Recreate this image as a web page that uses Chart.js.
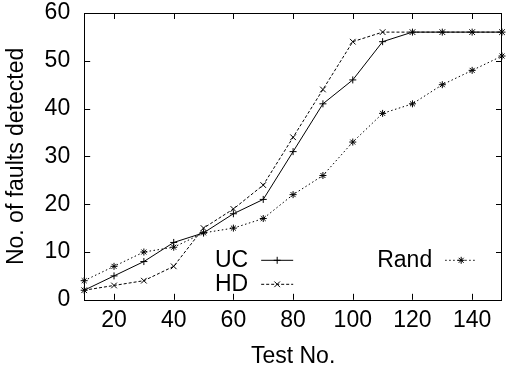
<!DOCTYPE html>
<html>
<head>
<meta charset="utf-8">
<script src="https://cdn.jsdelivr.net/npm/chart.js@4/dist/chart.umd.min.js"></script>
<style>
  html, body { margin: 0; padding: 0; background: #fff; }
  #wrap { width: 507px; height: 372px; position: relative; }
</style>
</head>
<body>
<div id="wrap"><canvas id="faultChart"></canvas></div>
<script>
const testNo = [10, 20, 30, 40, 50, 60, 70, 80, 90, 100, 110, 120, 130, 140, 150];
const ucFaults = [2, 5, 8, 12, 14, 18, 21, 31, 41, 46, 54, 56, 56, 56, 56];
const hdFaults = [2, 3, 4, 7, 15, 19, 24, 34, 44, 54, 56, 56, 56, 56, 56];
const randFaults = [4, 7, 10, 11, 14, 15, 17, 22, 26, 33, 39, 41, 45, 48, 51];
const xTicks = [20, 40, 60, 80, 100, 120, 140];
const yTicks = [0, 10, 20, 30, 40, 50, 60];

const FONT = "'Liberation Sans', Arial, Helvetica, sans-serif";
const FONT_SIZE = 23;

function toPoints(values) {
  return testNo.map((x, i) => ({ x: x, y: values[i] }));
}

// gnuplot style frame with inward ticks on all four sides
const framePlugin = {
  id: 'frame',
  afterDraw(chart) {
    const { ctx, chartArea: a, scales: { x, y } } = chart;
    const tl = 6;
    ctx.save();
    ctx.strokeStyle = '#000';
    ctx.lineWidth = 1;
    ctx.beginPath();
    x.ticks.forEach(t => {
      const px = Math.round(x.getPixelForValue(t.value)) + 0.5;
      ctx.moveTo(px, a.bottom); ctx.lineTo(px, a.bottom - tl);
      ctx.moveTo(px, a.top); ctx.lineTo(px, a.top + tl);
    });
    y.ticks.forEach(t => {
      const py = Math.round(y.getPixelForValue(t.value)) + 0.5;
      ctx.moveTo(a.left, py); ctx.lineTo(a.left + tl, py);
      ctx.moveTo(a.right, py); ctx.lineTo(a.right - tl, py);
    });
    ctx.stroke();
    ctx.strokeRect(Math.round(a.left) + 0.5, Math.round(a.top) + 0.5,
      Math.round(a.right - a.left) - 1, Math.round(a.bottom - a.top));
    ctx.restore();
  }
};

// legend: label on the left, line sample with marker on the right
const keyPlugin = {
  id: 'key',
  afterDraw(chart) {
    const { ctx, chartArea: a } = chart;
    const slots = [
      { ds: 0, right: a.left + 164, y: a.bottom - 40 },
      { ds: 1, right: a.left + 164, y: a.bottom - 16 },
      { ds: 2, right: a.left + 348, y: a.bottom - 40 }
    ];
    ctx.save();
    ctx.font = FONT_SIZE + 'px ' + FONT;
    ctx.textAlign = 'right';
    ctx.textBaseline = 'middle';
    slots.forEach(s => {
      const d = chart.data.datasets[s.ds];
      ctx.fillStyle = '#000';
      ctx.fillText(d.label, s.right, s.y + 1);
      const x0 = s.right + 13, x1 = s.right + 45;
      ctx.strokeStyle = '#000';
      ctx.lineWidth = 1;
      ctx.setLineDash(d.borderDash || []);
      ctx.beginPath();
      ctx.moveTo(x0, s.y + 0.5); ctx.lineTo(x1, s.y + 0.5);
      ctx.stroke();
      ctx.setLineDash([]);
      Chart.helpers.drawPoint(ctx, { pointStyle: d.pointStyle, radius: d.pointRadius, rotation: 0, borderWidth: 1 }, (x0 + x1) / 2, s.y + 0.5);
    });
    ctx.restore();
  }
};

const lineStyle = {
  borderColor: '#000',
  backgroundColor: '#000',
  pointBorderColor: '#000',
  pointBackgroundColor: '#000',
  borderWidth: 1,
  pointBorderWidth: 1,
  tension: 0,
  fill: false,
  clip: false
};

const tickFont = { family: FONT, size: FONT_SIZE };

new Chart(document.getElementById('faultChart'), {
  type: 'line',
  data: {
    datasets: [
      { ...lineStyle, label: 'UC', data: toPoints(ucFaults), pointStyle: 'cross', pointRadius: 3.5, borderDash: [] },
      { ...lineStyle, label: 'HD', data: toPoints(hdFaults), pointStyle: 'crossRot', pointRadius: 4, borderDash: [3, 2] },
      { ...lineStyle, label: 'Rand', data: toPoints(randFaults), pointStyle: 'star', pointRadius: 3.5, borderDash: [1.5, 2.5] }
    ]
  },
  options: {
    responsive: true,
    maintainAspectRatio: false,
    animation: false,
    layout: { padding: { left: 0, right: 1, top: 0, bottom: 0 } },
    plugins: {
      legend: { display: false },
      tooltip: { enabled: false }
    },
    scales: {
      x: {
        type: 'linear',
        min: 10,
        max: 150,
        afterBuildTicks: s => { s.ticks = xTicks.map(v => ({ value: v })); },
        grid: { display: false, drawTicks: false },
        border: { display: false },
        ticks: { color: '#000', font: tickFont, padding: 7.5, maxRotation: 0 },
        title: { display: true, text: 'Test No.', color: '#000', font: tickFont, padding: { top: 0, bottom: 2 } }
      },
      y: {
        min: 0,
        max: 60,
        afterBuildTicks: s => { s.ticks = yTicks.map(v => ({ value: v })); },
        afterFit: s => { s.paddingTop = 13; },
        grid: { display: false, drawTicks: false },
        border: { display: false },
        ticks: { color: '#000', font: tickFont, padding: 14 },
        title: { display: true, text: 'No. of faults detected', color: '#000', font: tickFont, padding: { top: 3, bottom: 0 } }
      }
    }
  },
  plugins: [framePlugin, keyPlugin]
});
</script>
</body>
</html>
